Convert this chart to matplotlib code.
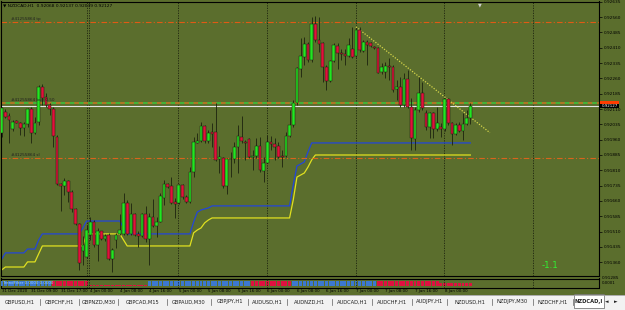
import matplotlib
matplotlib.use("Agg")
import matplotlib.pyplot as plt
from matplotlib.patches import Rectangle

# ====== NZDCAD H1 candles ======
opens = [0.91991, 0.92094, 0.92076, 0.92011, 0.92053, 0.92040, 0.92016, 0.92037, 0.92109, 0.91995,
         0.92045, 0.92220, 0.92171, 0.92130, 0.92110, 0.91975, 0.91744, 0.91731, 0.91760, 0.91706,
         0.91620, 0.91548, 0.91413, 0.91388, 0.91494, 0.91555, 0.91445, 0.91511, 0.91473, 0.91494,
         0.91377, 0.91470, 0.91499, 0.91499, 0.91652, 0.91499, 0.91597, 0.91499, 0.91489, 0.91597,
         0.91473, 0.91581, 0.91540, 0.91559, 0.91674, 0.91742, 0.91731, 0.91657, 0.91649, 0.91739,
         0.91678, 0.91657, 0.91803, 0.91945, 0.91955, 0.92027, 0.91955, 0.91996, 0.91996, 0.91864,
         0.91869, 0.91733, 0.91865, 0.91866, 0.91922, 0.91975, 0.91950, 0.91962, 0.91874, 0.91882,
         0.91931, 0.91807, 0.91847, 0.91947, 0.91939, 0.91931, 0.91882, 0.91882, 0.91980, 0.92032,
         0.92138, 0.92304, 0.92366, 0.92428, 0.92350, 0.92526, 0.92447, 0.92434, 0.92314, 0.92248,
         0.92346, 0.92418, 0.92385, 0.92379, 0.92371, 0.92402, 0.92369, 0.92499, 0.92395, 0.92439,
         0.92431, 0.92415, 0.92407, 0.92291, 0.92292, 0.92320, 0.92317, 0.92206, 0.92216, 0.92129,
         0.92257, 0.92118, 0.91962, 0.92105, 0.92190, 0.92089, 0.92020, 0.92089, 0.92014, 0.92024,
         0.92010, 0.92157, 0.92043, 0.91988, 0.92033, 0.92004, 0.92035, 0.92068]
highs = [0.92122, 0.92109, 0.92089, 0.92057, 0.92057, 0.92048, 0.92048, 0.92114, 0.92122, 0.92073,
         0.92228, 0.92231, 0.92187, 0.92138, 0.92122, 0.91983, 0.91747, 0.91771, 0.91763, 0.91714,
         0.91625, 0.91551, 0.91489, 0.91543, 0.91584, 0.91568, 0.91527, 0.91515, 0.91499, 0.91502,
         0.91429, 0.91502, 0.91597, 0.91701, 0.91665, 0.91652, 0.91600, 0.91511, 0.91600, 0.91636,
         0.91600, 0.91669, 0.91584, 0.91698, 0.91763, 0.91747, 0.91776, 0.91674, 0.91744, 0.91744,
         0.91690, 0.91828, 0.91975, 0.91991, 0.92048, 0.92032, 0.92007, 0.92040, 0.92138, 0.91929,
         0.91877, 0.91869, 0.91901, 0.91950, 0.92032, 0.92076, 0.91958, 0.91966, 0.91909, 0.91966,
         0.91975, 0.91877, 0.91983, 0.91978, 0.91966, 0.91950, 0.91909, 0.91999, 0.92105, 0.92154,
         0.92317, 0.92455, 0.92464, 0.92439, 0.92561, 0.92565, 0.92561, 0.92439, 0.92325, 0.92350,
         0.92431, 0.92431, 0.92402, 0.92402, 0.92455, 0.92512, 0.92504, 0.92509, 0.92447, 0.92447,
         0.92439, 0.92418, 0.92411, 0.92333, 0.92341, 0.92358, 0.92325, 0.92252, 0.92268, 0.92284,
         0.92301, 0.92162, 0.92118, 0.92268, 0.92244, 0.92105, 0.92097, 0.92097, 0.92121, 0.92040,
         0.92162, 0.92162, 0.92048, 0.92040, 0.92048, 0.92089, 0.92105, 0.92137]
lows = [0.91975, 0.92065, 0.91946, 0.92000, 0.92040, 0.91983, 0.91978, 0.92024, 0.91943, 0.91988,
        0.92032, 0.92130, 0.92122, 0.92081, 0.91926, 0.91739, 0.91613, 0.91690, 0.91657, 0.91608,
        0.91543, 0.91323, 0.91348, 0.91380, 0.91470, 0.91437, 0.91364, 0.91470, 0.91462, 0.91372,
        0.91315, 0.91429, 0.91494, 0.91494, 0.91494, 0.91494, 0.91489, 0.91437, 0.91486, 0.91457,
        0.91348, 0.91535, 0.91486, 0.91555, 0.91641, 0.91722, 0.91646, 0.91576, 0.91646, 0.91669,
        0.91652, 0.91652, 0.91779, 0.91942, 0.91950, 0.91942, 0.91942, 0.91926, 0.91857, 0.91795,
        0.91722, 0.91694, 0.91779, 0.91844, 0.91795, 0.91942, 0.91861, 0.91869, 0.91812, 0.91869,
        0.91803, 0.91755, 0.91844, 0.91909, 0.91861, 0.91869, 0.91828, 0.91877, 0.91975, 0.92024,
        0.92129, 0.92268, 0.92325, 0.92341, 0.92341, 0.92439, 0.92390, 0.92244, 0.92203, 0.92244,
        0.92341, 0.92304, 0.92350, 0.92325, 0.92366, 0.92358, 0.92366, 0.92390, 0.92390, 0.92325,
        0.92415, 0.92403, 0.92284, 0.92281, 0.92260, 0.92252, 0.92195, 0.92154, 0.92121, 0.92121,
        0.92113, 0.91909, 0.91909, 0.92097, 0.92105, 0.92007, 0.91966, 0.91966, 0.92004, 0.91975,
        0.92004, 0.92032, 0.91934, 0.91983, 0.91999, 0.91958, 0.92032, 0.92039]
closes = [0.92114, 0.92073, 0.92057, 0.92048, 0.92044, 0.92016, 0.92035, 0.92109, 0.91995, 0.92044,
          0.92220, 0.92163, 0.92130, 0.92110, 0.91978, 0.91744, 0.91731, 0.91760, 0.91706, 0.91620,
          0.91548, 0.91356, 0.91445, 0.91519, 0.91555, 0.91445, 0.91511, 0.91473, 0.91489, 0.91377,
          0.91418, 0.91494, 0.91519, 0.91652, 0.91499, 0.91597, 0.91494, 0.91489, 0.91597, 0.91473,
          0.91581, 0.91540, 0.91559, 0.91682, 0.91742, 0.91727, 0.91649, 0.91646, 0.91739, 0.91678,
          0.91657, 0.91801, 0.91950, 0.91955, 0.92027, 0.91955, 0.91991, 0.91988, 0.91861, 0.91874,
          0.91733, 0.91864, 0.91866, 0.91922, 0.91978, 0.91955, 0.91942, 0.91874, 0.91882, 0.91931,
          0.91812, 0.91847, 0.91947, 0.91939, 0.91926, 0.91877, 0.91877, 0.91980, 0.92032, 0.92138,
          0.92309, 0.92369, 0.92428, 0.92350, 0.92526, 0.92447, 0.92428, 0.92314, 0.92248, 0.92346,
          0.92423, 0.92385, 0.92377, 0.92371, 0.92423, 0.92366, 0.92499, 0.92398, 0.92439, 0.92423,
          0.92418, 0.92407, 0.92288, 0.92314, 0.92320, 0.92314, 0.92203, 0.92219, 0.92129, 0.92257,
          0.92121, 0.91966, 0.92105, 0.92190, 0.92113, 0.92020, 0.92089, 0.92014, 0.92043, 0.92010,
          0.92157, 0.92040, 0.91988, 0.92033, 0.92004, 0.92035, 0.92064, 0.92127]

# ====== stepped indicator lines ======
blue_line = [0.91376, 0.91406, 0.91406, 0.91406, 0.91406, 0.91406, 0.91406, 0.91425, 0.91425, 0.91425,
             0.91469, 0.91499, 0.91499, 0.91499, 0.91499, 0.91499, 0.91499, 0.91499, 0.91499, 0.91499,
             0.91499, 0.91499, 0.91528, 0.91562, 0.91562, 0.91562, 0.91562, 0.91562, 0.91562, 0.91562,
             0.91562, 0.91562, 0.91562, 0.91528, 0.91499, 0.91499, 0.91499, 0.91499, 0.91499, 0.91499,
             0.91499, 0.91499, 0.91499, 0.91499, 0.91499, 0.91499, 0.91499, 0.91499, 0.91499, 0.91499,
             0.91499, 0.91499, 0.91557, 0.91606, 0.91616, 0.91621, 0.91626, 0.91636, 0.91636, 0.91636,
             0.91636, 0.91636, 0.91636, 0.91636, 0.91636, 0.91636, 0.91636, 0.91636, 0.91636, 0.91636,
             0.91636, 0.91636, 0.91636, 0.91636, 0.91636, 0.91636, 0.91636, 0.91636, 0.91636, 0.91738,
             0.91831, 0.91841, 0.91851, 0.91900, 0.91944, 0.91944, 0.91944, 0.91944, 0.91944, 0.91944,
             0.91944, 0.91944, 0.91944, 0.91944, 0.91944, 0.91944, 0.91944, 0.91944, 0.91944, 0.91944,
             0.91944, 0.91944, 0.91944, 0.91944, 0.91944, 0.91944, 0.91944, 0.91944, 0.91944, 0.91944,
             0.91944, 0.91944, 0.91944, 0.91944, 0.91944, 0.91944, 0.91944, 0.91944, 0.91944, 0.91944,
             0.91944, 0.91944, 0.91944, 0.91944, 0.91944, 0.91944, 0.91944, 0.91944]
yellow_line = [0.91323, 0.91337, 0.91337, 0.91337, 0.91337, 0.91337, 0.91337, 0.91362, 0.91362, 0.91362,
               0.91401, 0.91440, 0.91440, 0.91440, 0.91440, 0.91440, 0.91440, 0.91440, 0.91440, 0.91440,
               0.91440, 0.91440, 0.91440, 0.91499, 0.91499, 0.91499, 0.91499, 0.91499, 0.91499, 0.91499,
               0.91499, 0.91499, 0.91499, 0.91469, 0.91440, 0.91440, 0.91440, 0.91440, 0.91440, 0.91440,
               0.91440, 0.91440, 0.91440, 0.91440, 0.91440, 0.91440, 0.91440, 0.91440, 0.91440, 0.91440,
               0.91440, 0.91440, 0.91504, 0.91518, 0.91528, 0.91553, 0.91567, 0.91577, 0.91577, 0.91577,
               0.91577, 0.91577, 0.91577, 0.91577, 0.91577, 0.91577, 0.91577, 0.91577, 0.91577, 0.91577,
               0.91577, 0.91577, 0.91577, 0.91577, 0.91577, 0.91577, 0.91577, 0.91577, 0.91577, 0.91665,
               0.91777, 0.91787, 0.91797, 0.91826, 0.91861, 0.91885, 0.91885, 0.91885, 0.91885, 0.91885,
               0.91885, 0.91885, 0.91885, 0.91885, 0.91885, 0.91885, 0.91885, 0.91885, 0.91885, 0.91885,
               0.91885, 0.91885, 0.91885, 0.91885, 0.91885, 0.91885, 0.91885, 0.91885, 0.91885, 0.91885,
               0.91885, 0.91885, 0.91885, 0.91885, 0.91885, 0.91885, 0.91885, 0.91885, 0.91885, 0.91885,
               0.91885, 0.91885, 0.91885, 0.91885, 0.91885, 0.91885, 0.91885, 0.91885]

# ====== sub-window histogram (+ blue / - red) ======
strip = [1, 1, 1, 1, 1, 1, 1, 1, 1, 1, 1, 1, 1, 1,
         -1, -1, -1, -1, -1, -1, -1, -1, -1, -1,
         -0.25, -0.25, -0.25, -0.25, -0.25, -0.25, -0.25, -0.25,
         -0.25, -0.25, -0.25, -0.25, -0.25, -0.25, -0.25, -0.25,
         1, 1, 1, 1, 1, 1, 1, 1, 1, 1, 1, 1, 1, 1,
         1, 1, 1, 1, 1, 1, 1, 1, 1, 1, 1, 1, 1, 1,
         -1, -1, -1, -1, -1, -1, -1, -1, -1, -1, -1,
         1, 1, 1, 1, 1, 1, 1, 1, 1, 1, 1, 1,
         1, 1, 1, 1, 1, 1, 1, 1, 1, 1, 1,
         -1, -1, -1, -1, -1, -1, -1, -1, -1,
         -1, -1, -1, -1, -1, -1, -1, -1,
         -0.7, -0.7, -0.7, -0.7, -0.7, -0.7, -0.7, -0.7, -0.7]

# ====== order levels / trendline ======
tp_price = 0.92534
buy_price = 0.92138
sl_price = 0.91872
bid_price = 0.92127
trend_x = [96, 132.3]
trend_y = [0.92512, 0.91994]
separators = [23.1, 23.75, 47.9, 72, 95.9, 119.9, 144]

price_ticks = [0.92635, 0.92560, 0.92485, 0.92410, 0.92335, 0.92260, 0.92185, 0.92110, 0.92035,
               0.91960, 0.91885, 0.91810, 0.91735, 0.91660, 0.91585, 0.91510, 0.91435, 0.91360]
date_bars = [0, 8, 16, 24, 32, 40, 48, 56, 64, 72, 80, 88, 96, 104, 112, 120]
date_labels = ["31 Dec 2020", "31 Dec 09:00", "31 Dec 17:00", "4 Jan 00:00", "4 Jan 08:00",
               "4 Jan 16:00", "5 Jan 00:00", "5 Jan 08:00", "5 Jan 16:00", "6 Jan 00:00",
               "6 Jan 08:00", "6 Jan 16:00", "7 Jan 00:00", "7 Jan 08:00", "7 Jan 16:00",
               "8 Jan 00:00"]
tabs = ["GBPUSD,H1", "GBPCHF,H1", "GBPNZD,M30", "GBPCAD,M15", "GBPAUD,M30", "GBPJPY,H1",
        "AUDUSD,H1", "AUDNZD,H1", "AUDCAD,H1", "AUDCHF,H1", "AUDJPY,H1", "NZDUSD,H1",
        "NZDJPY,M30", "NZDCHF,H1"]
tab_edges = [0, 40, 79, 118, 167, 211, 248, 287, 332, 372, 412, 447, 492, 533, 573]

# ====== look ======
W, H = 625, 310
OLIVE = "#5b6e2d"
DARK = "#1c220e"
UP = "#22e622"
DOWN = "#e3103c"
PITCH = 3.69


def fx(x):
    return x / W


def fy(y):
    return 1 - y / H


fig = plt.figure(figsize=(W / 100, H / 100), dpi=100)
fig.patch.set_facecolor(OLIVE)

ax = fig.add_axes([fx(1), fy(276), 598 / W, 274.5 / H])
ax.set_facecolor(OLIVE)
xlim = (-0.2, -0.2 + 598 / PITCH)
ax.set_xlim(*xlim)
ax.set_ylim(0.91293, 0.92636)

n = len(opens)
xs = list(range(n))

# day separators
for s in separators:
    ax.axvline(s, color=DARK, lw=0.6, ls=(0, (1.5, 1.5)), zorder=1)

# indicator lines
ax.plot(xs, blue_line, color="#2346d8", lw=0.9, zorder=2)
ax.plot(xs, yellow_line, color="#e0e020", lw=0.9, zorder=2)

# order lines
ax.axhline(tp_price, color="#e05a14", lw=0.8, ls=(0, (5, 2, 1, 2)), zorder=2)
ax.axhline(sl_price, color="#d9641c", lw=0.8, ls=(0, (5, 2, 1, 2)), zorder=2)
ax.axhline(buy_price, color="#3cc83c", lw=1.1, zorder=2)
ax.axhline(buy_price, color="#d2641e", lw=1.1, ls=(0, (3, 3)), zorder=2)
ax.axhline(bid_price, color="#e6e6e6", lw=0.8, zorder=2)

# trendline
ax.plot(trend_x, trend_y, color="#d6d64a", lw=0.9, ls=(0, (1, 1.2)), zorder=2)

# candles
ax.vlines(xs, lows, highs, color=DARK, lw=0.6, zorder=3)
bottoms, heights, cols = [], [], []
for o, c in zip(opens, closes):
    h = c - o
    if abs(h) < 0.000015:
        h = 0.000015
    bottoms.append(o)
    heights.append(h)
    cols.append(UP if c >= o else DOWN)
ax.bar(xs, heights, bottom=bottoms, width=0.74, color=cols, edgecolor=DARK,
       linewidth=0.35, zorder=4)

# price axis
ax.yaxis.tick_right()
ax.set_yticks(price_ticks)
ax.set_yticklabels([f"{p:.5f}" for p in price_ticks])
ax.tick_params(axis="y", length=2, width=0.5, color="black", labelsize=3.1, pad=1.2,
               labelcolor="black")
ax.set_xticks([])
for sp in ax.spines.values():
    sp.set_color("black")
    sp.set_linewidth(0.8)

# labels inside chart
ax.text(0.004, 0.993, "\u25bc NZDCAD,H1  0.92068 0.92137 0.92039 0.92127", transform=ax.transAxes,
        fontsize=3.2, color="black", va="top", ha="left")
for price, lab in [(tp_price, "#41255864 tp"), (buy_price, "#41255864 buy 0.50"),
                   (sl_price, "#41255864 sl")]:
    ax.text(2.5, price + 0.00005, lab, fontsize=3.0, color="#202020", va="bottom", ha="left",
            zorder=5)
ax.text(0.918, 0.04, "-1.1", transform=ax.transAxes, fontsize=6.3, color="#33ee33",
        ha="center", va="center")
ax.text(0.8, 0.997, "\u25bc", transform=ax.transAxes, fontsize=3.5, color="#d0d0d0",
        ha="center", va="top")

# current price boxes
fig.add_artist(Rectangle((fx(600), fy(103.8)), 19 / W, 2.4 / H, transform=fig.transFigure,
                         facecolor="#ff3c00", edgecolor="none"))
fig.add_artist(Rectangle((fx(600), fy(107.8)), 19 / W, 4.0 / H, transform=fig.transFigure,
                         facecolor="black", edgecolor="none"))
fig.text(fx(609.5), fy(105.8), "0.92127", fontsize=2.9, color="white", ha="center", va="center")
fig.text(fx(602), fy(277.7), "0.91285", fontsize=3.1, color="black", ha="left", va="center")

# sub-window
sub = fig.add_axes([fx(1), fy(287.5), 598 / W, 9 / H])
sub.set_facecolor(OLIVE)
sub.set_xlim(*xlim)
sub.set_ylim(-0.25, 1.6)
sub.bar(xs, [abs(v) for v in strip], width=0.8,
        color=["#3c78d0" if v > 0 else "#e01040" for v in strip], zorder=3)
for s in separators:
    sub.axvline(s, color=DARK, lw=0.6, ls=(0, (1.5, 1.5)), zorder=4)
sub.set_xticks([])
sub.set_yticks([])
for sp in sub.spines.values():
    sp.set_color("black")
    sp.set_linewidth(0.8)
sub.text(0.004, 0.55, "TrendFilter 0.0000 0.0000", transform=sub.transAxes, fontsize=2.8,
         color="#9ad0ff", va="center", ha="left", zorder=5)
fig.text(fx(602), fy(282.5), "0.0001", fontsize=2.9, color="black", ha="left", va="center")

# time axis
for b, lab in zip(date_bars, date_labels):
    xp = 1.7 + b * PITCH
    fig.text(fx(xp), fy(291), lab, fontsize=2.9, color="black", ha="left", va="center")

# tab bar
fig.add_artist(Rectangle((0, 0), 1, 15.5 / H, transform=fig.transFigure,
                         facecolor="#f2f2f2", edgecolor="none"))
fig.add_artist(plt.Line2D([0, 1], [fy(294.5), fy(294.5)], transform=fig.transFigure,
                          color="#a0a0a0", lw=0.6))
for i, name in enumerate(tabs):
    l, r = tab_edges[i], tab_edges[i + 1]
    fig.text(fx((l + r) / 2), fy(302), name, fontsize=3.7, color="#202020",
             ha="center", va="center")
    fig.add_artist(plt.Line2D([fx(r), fx(r)], [fy(299), fy(305)], transform=fig.transFigure,
                              color="#606060", lw=0.5))
fig.add_artist(Rectangle((fx(574), fy(308)), 30 / W, 14 / H, transform=fig.transFigure,
                         facecolor="white", edgecolor="#606060", lw=0.5))
fig.text(fx(589), fy(302), "NZDCAD,I", fontsize=3.7, color="#202020", ha="center",
         va="center", fontweight="bold")
fig.text(fx(607), fy(302), "\u25c4", fontsize=3.3, color="#202020", ha="center", va="center")
fig.text(fx(616), fy(302), "\u25ba", fontsize=3.3, color="#202020", ha="center", va="center")

fig.savefig("out.png", dpi=100, facecolor=fig.get_facecolor())
